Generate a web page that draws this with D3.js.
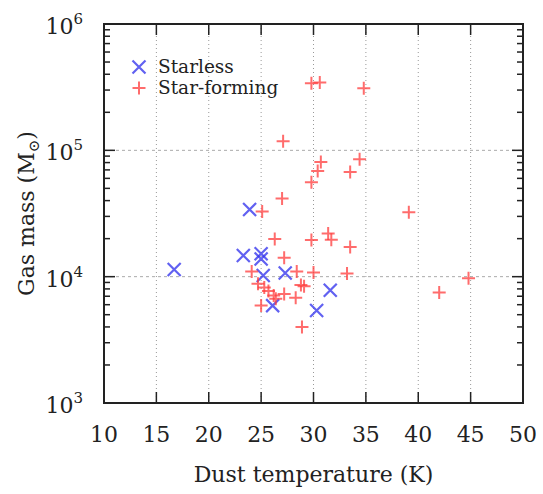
<!DOCTYPE html>
<html>
<head>
<meta charset="utf-8">
<script src="https://cdn.jsdelivr.net/npm/d3@7"></script>
<style>
  body { margin: 0; background: #fff; }
  svg { display: block; }
  svg text { font-family: "DejaVu Serif", "Liberation Serif", "Times New Roman", serif; }
</style>
</head>
<body>
<svg id="chart" width="543" height="494"></svg>
<script>
// ---- data ----
const xTicks = [10, 15, 20, 25, 30, 35, 40, 45, 50];
const yTicks = [1e3, 1e4, 1e5, 1e6];
const yTickExp = ["3", "4", "5", "6"];

const starlessT = [16.7, 23.9, 23.3, 25.0, 25.0, 25.2, 27.3, 31.6, 30.3, 26.1];
const starlessM = [11400, 34000, 14700, 15200, 13800, 10200, 10700, 7800, 5400, 5900];

const starT = [29.8, 30.6, 34.8, 27.1, 30.7, 30.4, 29.8, 34.4, 33.5, 27.0, 25.1, 39.1,
               26.3, 29.8, 31.4, 31.7, 33.5, 27.2, 24.1, 28.4, 30.0, 33.2, 44.8, 42.0,
               24.7, 25.3, 25.7, 26.2, 26.4, 25.0, 28.8, 29.1, 27.2, 28.3, 28.9];
const starM = [340000, 345000, 310000, 118000, 81000, 68500, 56000, 85000, 67500, 41500, 32800, 32400,
               19900, 19500, 22000, 19600, 17200, 14100, 11000, 11000, 10800, 10600, 9700, 7500,
               8800, 8200, 7700, 7100, 6700, 5900, 8600, 8400, 7300, 6800, 4000];

const legendLabels = ["Starless", "Star-forming"];

// ---- layout ----
const L = 104, R = 523, T = 24, B = 403;
const svg = d3.select("#chart");
const x = d3.scaleLinear().domain([10, 50]).range([L, R]);
const y = d3.scaleLog().domain([1e3, 1e6]).range([B, T]);

// grid
const g = svg.append("g");
g.selectAll("line.vg").data(xTicks.filter(d => d > 10 && d < 50)).enter().append("line")
  .attr("x1", d => x(d)).attr("x2", d => x(d)).attr("y1", T).attr("y2", B)
  .attr("stroke", "#999").attr("stroke-width", 1).attr("stroke-dasharray", "1,3");
g.selectAll("line.hg").data([1e4, 1e5]).enter().append("line")
  .attr("x1", L).attr("x2", R).attr("y1", d => y(d)).attr("y2", d => y(d))
  .attr("stroke", "#aaa").attr("stroke-width", 1).attr("stroke-dasharray", "3,3");

// minor y ticks
const minors = [];
for (let e = 3; e < 6; e++) for (let k = 2; k <= 9; k++) minors.push(k * Math.pow(10, e));
const tk = svg.append("g").attr("stroke", "#222").attr("stroke-width", 1.5);
minors.forEach(v => {
  tk.append("line").attr("x1", L).attr("x2", L + 6).attr("y1", y(v)).attr("y2", y(v));
  tk.append("line").attr("x1", R).attr("x2", R - 6).attr("y1", y(v)).attr("y2", y(v));
});
yTicks.forEach(v => {
  tk.append("line").attr("x1", L).attr("x2", L + 11).attr("y1", y(v)).attr("y2", y(v));
  tk.append("line").attr("x1", R).attr("x2", R - 11).attr("y1", y(v)).attr("y2", y(v));
});
xTicks.forEach(v => {
  tk.append("line").attr("x1", x(v)).attr("x2", x(v)).attr("y1", B).attr("y2", B - 11);
  tk.append("line").attr("x1", x(v)).attr("x2", x(v)).attr("y1", T).attr("y2", T + 11);
});

// frame
svg.append("rect").attr("x", L).attr("y", T).attr("width", R - L).attr("height", B - T)
  .attr("fill", "none").attr("stroke", "#222").attr("stroke-width", 2);

// x tick labels
svg.selectAll("text.xt").data(xTicks).enter().append("text")
  .attr("x", d => x(d)).attr("y", B + 39).attr("text-anchor", "middle")
  .attr("font-size", 22).attr("fill", "#222").text(d => d);

// y tick labels
yTicks.forEach((v, i) => {
  const t = svg.append("text").attr("x", 83).attr("y", y(v) + 10)
    .attr("text-anchor", "end").attr("font-size", 22).attr("fill", "#222");
  t.append("tspan").text("10");
  t.append("tspan").attr("dy", -10).attr("font-size", 15).text(yTickExp[i]);
});

// axis titles
svg.append("text").attr("x", (L + R) / 2).attr("y", 482).attr("text-anchor", "middle")
  .attr("font-size", 22).attr("fill", "#222").text("Dust temperature (K)");
const yt = svg.append("text").attr("transform", "translate(34," + ((T + B) / 2) + ") rotate(-90)")
  .attr("text-anchor", "middle").attr("font-size", 22).attr("fill", "#222");
yt.append("tspan").text("Gas mass (M");
yt.append("tspan").attr("dy", 5).attr("font-size", 15).text("⊙");
yt.append("tspan").attr("dy", -5).text(")");

// markers
const blue = "#3a3aee", red = "#ff3b3b";
function cross(sel, cx, cy, s) {
  sel.append("path").attr("d", `M${cx - s},${cy - s}L${cx + s},${cy + s}M${cx - s},${cy + s}L${cx + s},${cy - s}`);
}
function plus(sel, cx, cy, s) {
  sel.append("path").attr("d", `M${cx - s},${cy}L${cx + s},${cy}M${cx},${cy - s}L${cx},${cy + s}`);
}
const gs = svg.append("g").attr("stroke", blue).attr("stroke-width", 2.2).attr("fill", "none").attr("stroke-opacity", 0.8);
starlessT.forEach((t, i) => cross(gs, x(t), y(starlessM[i]), 6.5));
const gf = svg.append("g").attr("stroke", red).attr("stroke-width", 2).attr("fill", "none").attr("stroke-opacity", 0.75);
starT.forEach((t, i) => plus(gf, x(t), y(starM[i]), 6.5));

// legend
const lg = svg.append("g");
cross(lg.append("g").attr("stroke", blue).attr("stroke-width", 2.2).attr("stroke-opacity", 0.8), 139, 67, 6.5);
plus(lg.append("g").attr("stroke", red).attr("stroke-width", 2).attr("stroke-opacity", 0.75), 139, 88, 6.5);
lg.append("text").attr("x", 158).attr("y", 73).attr("font-size", 18.5).attr("fill", "#222").text(legendLabels[0]);
lg.append("text").attr("x", 158).attr("y", 94).attr("font-size", 18.5).attr("fill", "#222").text(legendLabels[1]);
</script>
</body>
</html>
